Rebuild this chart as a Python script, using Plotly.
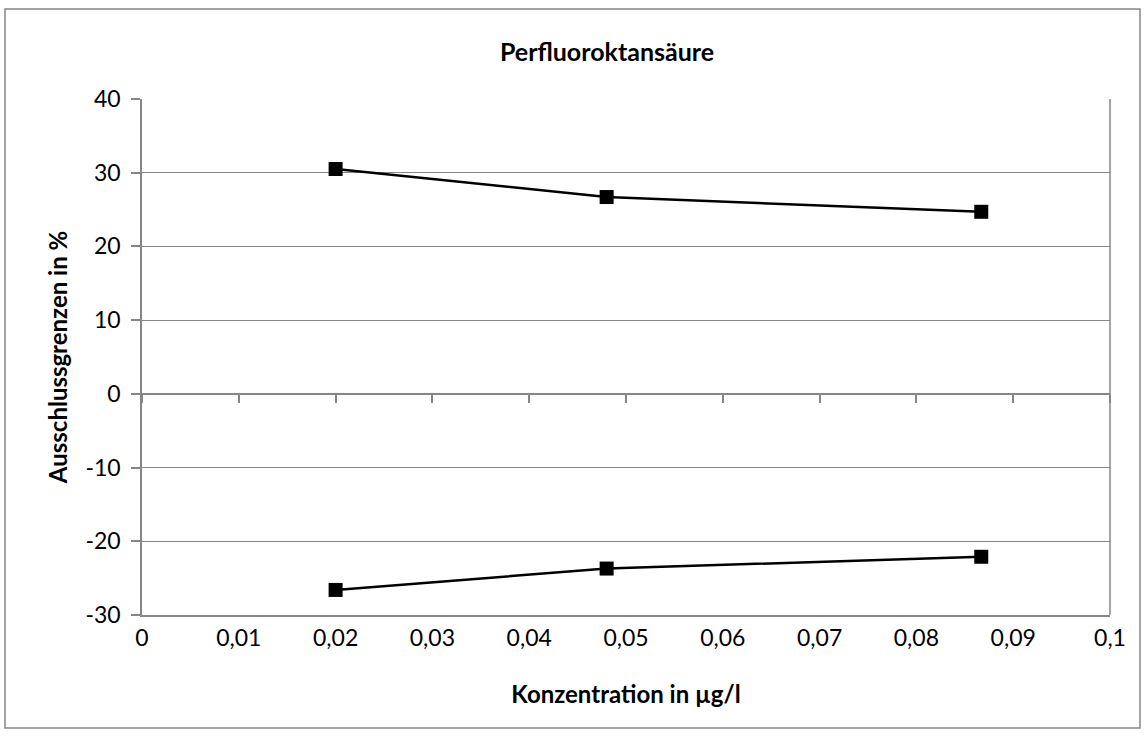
import plotly.graph_objects as go

# Data
konzentration = [0.02, 0.048, 0.0867]
obere_grenze = [30.5, 26.7, 24.7]
untere_grenze = [-26.6, -23.7, -22.1]

x_ticks = [0, 0.01, 0.02, 0.03, 0.04, 0.05, 0.06, 0.07, 0.08, 0.09, 0.1]
x_ticklabels = ["0", "0,01", "0,02", "0,03", "0,04", "0,05", "0,06", "0,07", "0,08", "0,09", "0,1"]
y_ticks = [-30, -20, -10, 0, 10, 20, 30, 40]
y_ticklabels = ["-30", "-20", "-10", "0", "10", "20", "30", "40"]

FONT = "Lato, Calibri, Carlito, sans-serif"
GRAY = "#868686"

W, H = 1146, 736
L, R, T, B = 142, 36, 99, 121
pw, ph = W - L - R, H - T - B

def px(xp):
    return (xp - L) / pw

def py(yp):
    return (H - B - yp) / ph

fig = go.Figure()
for vals in (obere_grenze, untere_grenze):
    fig.add_trace(go.Scatter(
        x=konzentration, y=vals, mode="lines+markers",
        line=dict(color="black", width=2.5),
        marker=dict(symbol="square", size=14, color="black"),
        showlegend=False, xaxis="x", yaxis="y"))

# invisible trace for the axis through y=0
fig.add_trace(go.Scatter(x=[0, 0.1], y=[0, 0], mode="lines",
                         line=dict(width=0), opacity=0, showlegend=False,
                         xaxis="x2", yaxis="y", hoverinfo="skip"))

ymin, ymax = -30, 40
fig.update_layout(
    width=W, height=H,
    margin=dict(l=L, r=R, t=T, b=B),
    paper_bgcolor="white", plot_bgcolor="white",
    font=dict(family=FONT, size=23, color="black"),
    title=dict(text="<b>Perfluoroktansäure</b>", font=dict(family=FONT, size=25),
               x=px(607), xref="paper", xanchor="center", y=1 - 52 / H, yanchor="middle"),
    xaxis=dict(range=[0, 0.1], tickvals=x_ticks, ticktext=x_ticklabels,
               showgrid=False, zeroline=False, showline=True, linecolor=GRAY, linewidth=1.5,
               mirror=False, ticks="", tickfont=dict(size=23), ticklabelstandoff=2,
               title=dict(text="<b>Konzentration in µg/l</b>", font=dict(size=24), standoff=36)),
    xaxis2=dict(range=[0, 0.1], overlaying="x", anchor="free",
                position=(0 - ymin) / (ymax - ymin), side="bottom",
                tickvals=x_ticks, showticklabels=False, showgrid=False, zeroline=False,
                showline=True, linecolor=GRAY, linewidth=1.5,
                ticks="outside", ticklen=8, tickcolor=GRAY, tickwidth=1.5),
    yaxis=dict(range=[ymin, ymax], tickvals=y_ticks, ticktext=y_ticklabels,
               showgrid=True, gridcolor=GRAY, gridwidth=1.2, zeroline=False,
               showline=True, linecolor=GRAY, linewidth=1.5,
               ticks="outside", ticklen=9, tickcolor=GRAY, tickwidth=1.5,
               tickfont=dict(size=23), ticklabelstandoff=6,
               title=dict(text="<b>Ausschlussgrenzen in %</b>", font=dict(size=24), standoff=11)),
    shapes=[
        dict(type="rect", xref="paper", yref="paper",
             x0=px(5), x1=px(1140), y0=py(9), y1=py(728),
             line=dict(color=GRAY, width=1.5), fillcolor="rgba(0,0,0,0)", layer="below"),
        dict(type="line", xref="paper", yref="paper", x0=1, x1=1, y0=0, y1=1,
             line=dict(color=GRAY, width=1.5)),
    ],
)

fig.write_html("out.html", config={"displayModeBar": False},
               post_script="document.body.style.margin='0';")
